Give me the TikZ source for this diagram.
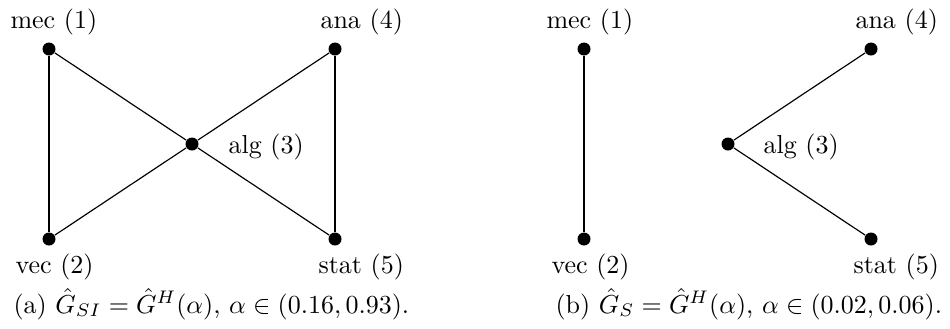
\documentclass[tikz,border=0pt]{standalone}
\begin{document}
\begin{tikzpicture}[x=0.3846pt,y=-0.3846pt,
  vtx/.style={circle,fill=black,inner sep=0pt,minimum size=5pt},
  lbl/.style={anchor=base west,inner sep=0pt,font=\fontsize{10}{12}\selectfont},
  thick edge/.style={line width=0.8pt},
  thin edge/.style={line width=0.45pt}]
\useasboundingbox (0,0) rectangle (950,328);
% panel (a)
\node[vtx] (a1) at (49,49) {};
\node[vtx] (a2) at (49,239) {};
\node[vtx] (a3) at (192,144) {};
\node[vtx] (a4) at (335,49) {};
\node[vtx] (a5) at (335,239) {};
\draw[thick edge] (a1) -- (a2);
\draw[thick edge] (a4) -- (a5);
\draw[thin edge] (a1) -- (a3) -- (a5);
\draw[thin edge] (a2) -- (a3) -- (a4);
\node[lbl] (la1) at (10,28) {mec (1)};
\node[lbl] (la2) at (15,273) {vec (2)};
\node[lbl] (la3) at (228,153) {alg (3)};
\node[lbl] (la4) at (320,28) {ana (4)};
\node[lbl] (la5) at (318,273) {stat (5)};
\node[lbl] (capa) at (13,313) {(a) $\hat{G}_{SI}=\hat{G}^{H}(\alpha)$, $\alpha\in(0.16,0.93)$.};
% panel (b)
\node[vtx] (b1) at (584,49) {};
\node[vtx] (b2) at (584,239) {};
\node[vtx] (b3) at (728,144) {};
\node[vtx] (b4) at (871,49) {};
\node[vtx] (b5) at (871,239) {};
\draw[thick edge] (b1) -- (b2);
\draw[thin edge] (b4) -- (b3) -- (b5);
\node[lbl] (lb1) at (546,28) {mec (1)};
\node[lbl] (lb2) at (551,273) {vec (2)};
\node[lbl] (lb3) at (763,153) {alg (3)};
\node[lbl] (lb4) at (855,28) {ana (4)};
\node[lbl] (lb5) at (853,273) {stat (5)};
\node[lbl] (capb) at (555,313) {(b) $\hat{G}_{S}=\hat{G}^{H}(\alpha)$, $\alpha\in(0.02,0.06)$.};
\end{tikzpicture}
\end{document}
